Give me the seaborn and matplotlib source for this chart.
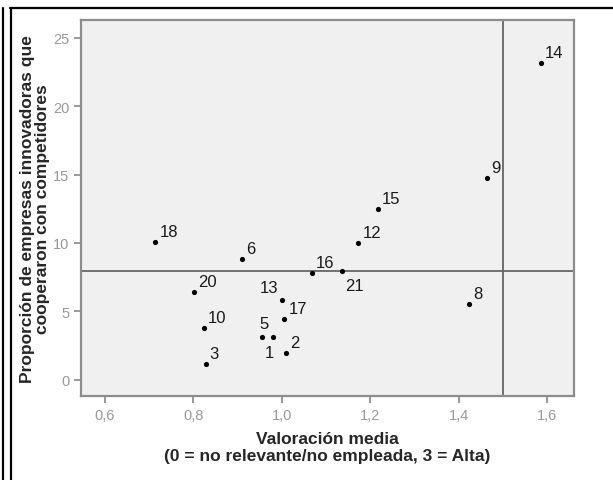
import matplotlib
matplotlib.use("Agg")
import matplotlib.pyplot as plt
import seaborn as sns
import pandas as pd
from matplotlib.lines import Line2D
from matplotlib.ticker import FuncFormatter

# --- data ---
sectors = ["1", "2", "3", "5", "6", "8", "9", "10", "12", "13",
           "14", "15", "16", "17", "18", "20", "21"]
valoracion = [0.979, 1.009, 0.828, 0.956, 0.911, 1.424, 1.464, 0.824, 1.173, 1.000,
              1.586, 1.217, 1.068, 1.006, 0.714, 0.802, 1.137]
proporcion = [3.15, 1.93, 1.17, 3.15, 8.85, 5.56, 14.73, 3.78, 9.98, 5.85,
              23.15, 12.46, 7.78, 4.42, 10.05, 6.42, 7.93]
x_ref = 1.5
y_ref = 7.93
x_ticks = [0.6, 0.8, 1.0, 1.2, 1.4, 1.6]
y_ticks = [0, 5, 10, 15, 20, 25]

# label placement (offset in pixels, horizontal / vertical alignment)
label_pos = {
    "1": (1, -8, "right", "top"),
    "5": (2, 6, "center", "bottom"),
    "13": (-4, 5, "right", "bottom"),
    "21": (3, -7, "left", "top"),
}
default_pos = (4, 3, "left", "bottom")

df = pd.DataFrame({"sector": sectors, "x": valoracion, "y": proporcion})

sns.set_style("white")
plt.rcParams.update({
    "font.family": ["Liberation Sans", "DejaVu Sans"],
    "axes.facecolor": "#f0f0f0",
    "figure.facecolor": "white",
})

fig = plt.figure(figsize=(6.13, 4.81), dpi=100)
ax = fig.add_axes([81 / 613, 1 - 397 / 481, 493 / 613, 376 / 481])

sns.scatterplot(data=df, x="x", y="y", ax=ax, color="black", s=14,
                edgecolor="black", linewidth=0, zorder=3)

ax.axhline(y_ref, color="#666666", lw=1.3, zorder=2)
ax.axvline(x_ref, color="#666666", lw=1.3, zorder=2)

for _, r in df.iterrows():
    dx, dy, ha, va = label_pos.get(r["sector"], default_pos)
    ax.annotate(r["sector"], (r["x"], r["y"]), xytext=(dx, dy),
                textcoords="offset pixels", ha=ha, va=va,
                fontsize=12, color="#1a1a1a", zorder=4)

ax.set_xlim(0.5457, 1.661)
ax.set_ylim(-1.19, 26.3)
ax.set_xticks(x_ticks)
ax.set_yticks(y_ticks)
ax.xaxis.set_major_formatter(FuncFormatter(lambda v, p: f"{v:.1f}".replace(".", ",")))
ax.tick_params(axis="both", direction="out", length=5, width=1.2,
               color="#888888", labelcolor="#999999", labelsize=10.5,
               bottom=True, left=True)
for sp in ax.spines.values():
    sp.set_color("#8c8c8c")
    sp.set_linewidth(1.6)

ax.set_xlabel("Valoración media\n(0 = no relevante/no empleada, 3 = Alta)",
              fontsize=12.5, fontweight="bold", linespacing=1.2)
ax.xaxis.set_label_coords(0.5, -0.092)
ax.xaxis.label.set_va("top")
ax.set_ylabel("Proporción de empresas innovadoras que\ncooperaron con competidores",
              fontsize=12.5, fontweight="bold", linespacing=1.0)
ax.yaxis.set_label_coords(-0.094, 0.5)
ax.yaxis.label.set_va("center")

# outer frame lines
for x in (3, 11):
    fig.add_artist(Line2D([x / 613, x / 613], [0, 1 - 9 / 481],
                          color="black", lw=1.6, transform=fig.transFigure))
fig.add_artist(Line2D([10 / 613, 1], [1 - 9 / 481, 1 - 9 / 481],
                      color="black", lw=1.6, transform=fig.transFigure))

fig.savefig("out.png", dpi=100)
